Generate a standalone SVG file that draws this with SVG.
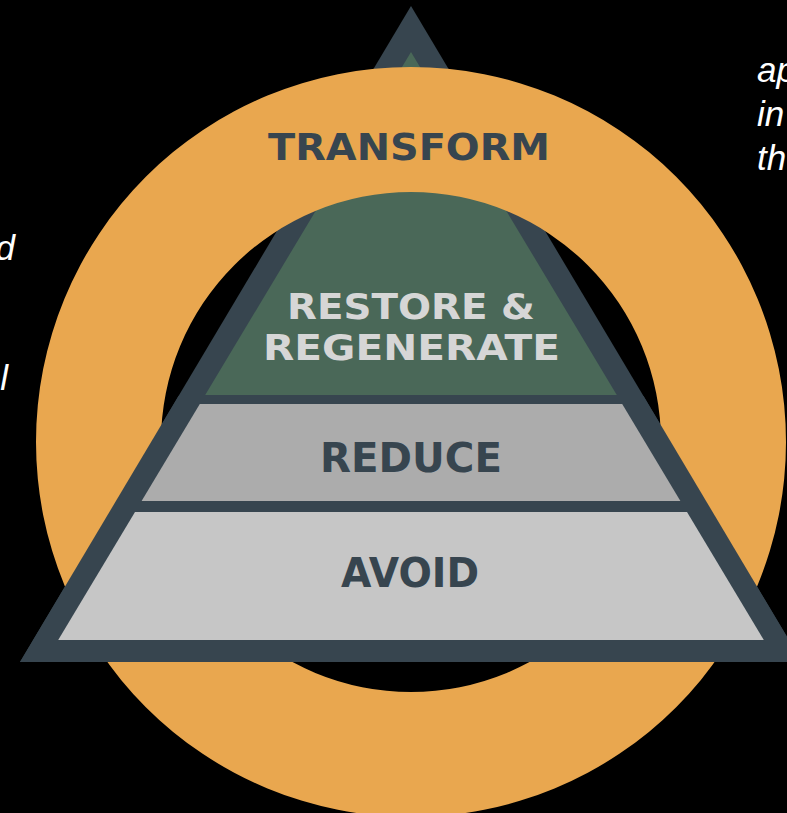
<svg xmlns="http://www.w3.org/2000/svg" width="787" height="813" viewBox="0 0 787 813">
<style>
.lbl{font-family:"DejaVu Sans","Liberation Sans",sans-serif;font-weight:bold;text-anchor:middle}
.dk{fill:#37454f}
.lt{fill:#d6d6d6}
.side{font-family:"Liberation Sans",Arial,sans-serif;font-style:italic;font-size:35px;fill:#ffffff}
</style>
<rect width="787" height="813" fill="#000000"/>
<g id="pyramid-back">
<polygon class="dk" points="411,6 20,662 802,662"/>
<polygon id="restore-layer" fill="#4a6858" points="411,52 205.2,395 616.8,395"/>
</g>
<g id="transform-ring">
<path fill="#e9a74f" fill-rule="evenodd" d="M36,442 a375,375 0 1,0 750,0 a375,375 0 1,0 -750,0 Z M161,442 a250,250 0 1,0 500,0 a250,250 0 1,0 -500,0 Z"/>
<text class="lbl dk" x="409" y="160" font-size="38" textLength="282" lengthAdjust="spacingAndGlyphs">TRANSFORM</text>
</g>
<g id="pyramid-front">
<polygon class="dk" points="178.5,396 643.5,396 802,662 20,662"/>
</g>
<g id="restore">
<text class="lbl lt" x="411" y="319" font-size="35" textLength="248" lengthAdjust="spacingAndGlyphs">RESTORE &amp;</text>
<text class="lbl lt" x="411.5" y="360" font-size="36" textLength="297" lengthAdjust="spacingAndGlyphs">REGENERATE</text>
</g>
<g id="reduce">
<polygon fill="#acacac" points="199.8,404 622.2,404 680.4,501 141.6,501"/>
<text class="lbl dk" x="411" y="472" font-size="41" textLength="182" lengthAdjust="spacingAndGlyphs">REDUCE</text>
</g>
<g id="avoid">
<polygon fill="#c6c6c6" points="135,512 687,512 763.8,640 58.2,640"/>
<text class="lbl dk" x="410" y="587" font-size="40" textLength="138" lengthAdjust="spacingAndGlyphs">AVOID</text>
</g>
<g id="side-text">
<text class="side" x="757" y="82">ap</text>
<text class="side" x="757" y="126">in</text>
<text class="side" x="757" y="170">th</text>
<text class="side" x="15" y="260" text-anchor="end">d</text>
<text class="side" x="8" y="390" text-anchor="end">l</text>
</g>
</svg>
